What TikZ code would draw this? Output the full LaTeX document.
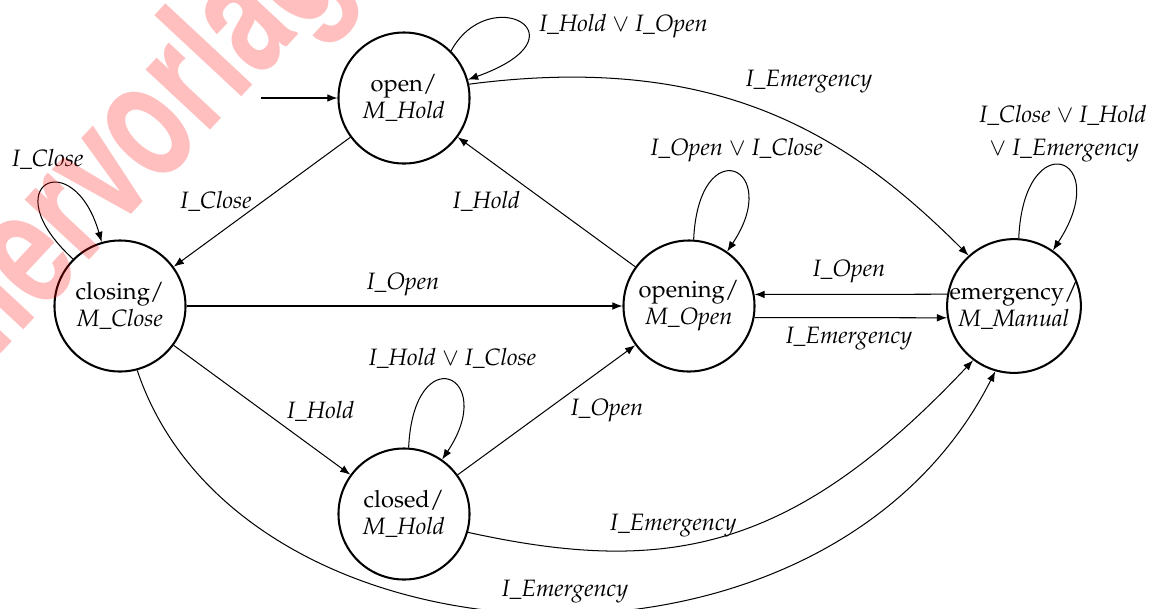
\documentclass[tikz,border=0pt]{standalone}
\usepackage[T1]{fontenc}
\usepackage{mathpazo}
\usetikzlibrary{arrows.meta}
\begin{document}
\begin{tikzpicture}[x=0.0155cm, y=-0.0155cm,
  state/.style={circle, draw, line width=0.9pt, minimum size=57.8pt, inner sep=0pt, align=center, font=\fontsize{10.45}{12}\selectfont},
  tr/.style={-{Latex[length=4.5pt,width=3.4pt]}, line width=0.45pt},
  lbl/.style={inner sep=0pt, anchor=base, font=\fontsize{10.45}{12}\selectfont},
  wm/.style={rotate=47, inner sep=0pt, text=red, text opacity=0.25, font=\fontsize{72}{72}\fontfamily{phv}\fontseries{b}\selectfont}
]
\useasboundingbox (0,0) rectangle (1157,608);

% states
\node[state] (open) at (404,98) {open/\\\textit{M\_Hold}};
\node[state] (closing) at (120,306) {closing/\\\textit{M\_Close}};
\node[state] (closed) at (404,514) {closed/\\\textit{M\_Hold}};
\node[state] (opening) at (689,306) {opening/\\\textit{M\_Open}};
\node[state, minimum size=59pt] (emergency) at (1014,306) {\makebox[0pt]{emergency/}\\\makebox[0pt]{\textit{M\_Manual}}};

% initial
\coordinate (init) at (261,98);
\draw[tr] (init) -- (open);

% straight transitions
\draw[tr] (open) -- (closing);
\draw[tr] (closing) -- (closed);
\draw[tr] (closed) -- (opening);
\draw[tr] (opening) -- (open);
\draw[tr] (closing) -- (opening);
\draw[tr] (emergency.170) -- (opening.10);
\draw[tr] (opening.-10) -- (emergency.-170);

% curved transitions
\draw[tr] (open.12) .. controls +(250,-32.5) and +(-120,-120) .. (emergency.132);
\draw[tr] (closed.-16) .. controls +(200,44) and +(-180,191) .. (emergency.-127);
\draw[tr] (closing.-75) .. controls +(103,308) and +(-171,338) .. (emergency.-106);

% loops
\draw[tr] (open.45) .. controls +(38,-70) and +(123,-44) .. (open.16);
\draw[tr] (closing.135) .. controls +(-81,-74.5) and +(-28.4,-98.4) .. (closing.106);
\draw[tr] (closed.86) .. controls +(5,-110) and +(57,-85) .. (closed.55);
\draw[tr] (opening.86) .. controls +(5,-110) and +(57,-85) .. (opening.55);
\draw[tr] (emergency.86) .. controls +(5,-115) and +(62,-95) .. (emergency.55);

% labels
\node[lbl] (l1) at (623.5,31) {\textit{I\_Hold} $\vee$ \textit{I\_Open}};
\node[lbl] (l2) at (809,86) {\textit{I\_Emergency}};
\node[lbl] (l3a) at (1063,122.3) {\textit{I\_Close} $\vee$ \textit{I\_Hold}};
\node[lbl] (l3b) at (1064,155) {$\vee$ \textit{I\_Emergency}};
\node[lbl] (l4) at (736.7,155) {\textit{I\_Open} $\vee$ \textit{I\_Close}};
\node[lbl] (l5) at (47.7,166.7) {\textit{I\_Close}};
\node[lbl] (l6) at (216,208.3) {\textit{I\_Close}};
\node[lbl] (l7) at (486.5,208) {\textit{I\_Hold}};
\node[lbl] (l8) at (403,289) {\textit{I\_Open}};
\node[lbl] (l9) at (849,276) {\textit{I\_Open}};
\node[lbl] (l10) at (849,343.3) {\textit{I\_Emergency}};
\node[lbl] (l11) at (452.5,365) {\textit{I\_Hold} $\vee$ \textit{I\_Close}};
\node[lbl] (l12) at (320.7,418.3) {\textit{I\_Hold}};
\node[lbl] (l13) at (607,415) {\textit{I\_Open}};
\node[lbl] (l14) at (673.3,530) {\textit{I\_Emergency}};
\node[lbl] (l15) at (565,596.7) {\textit{I\_Emergency}};

% watermark
\node[wm, anchor=base east] (wm1) at (115,232) {\scalebox{0.71}[1]{Sch\"uler}};
\node[wm, anchor=base west] (wm2) at (115,232) {\scalebox{0.71}[1]{vorlage}};
\end{tikzpicture}
\end{document}
